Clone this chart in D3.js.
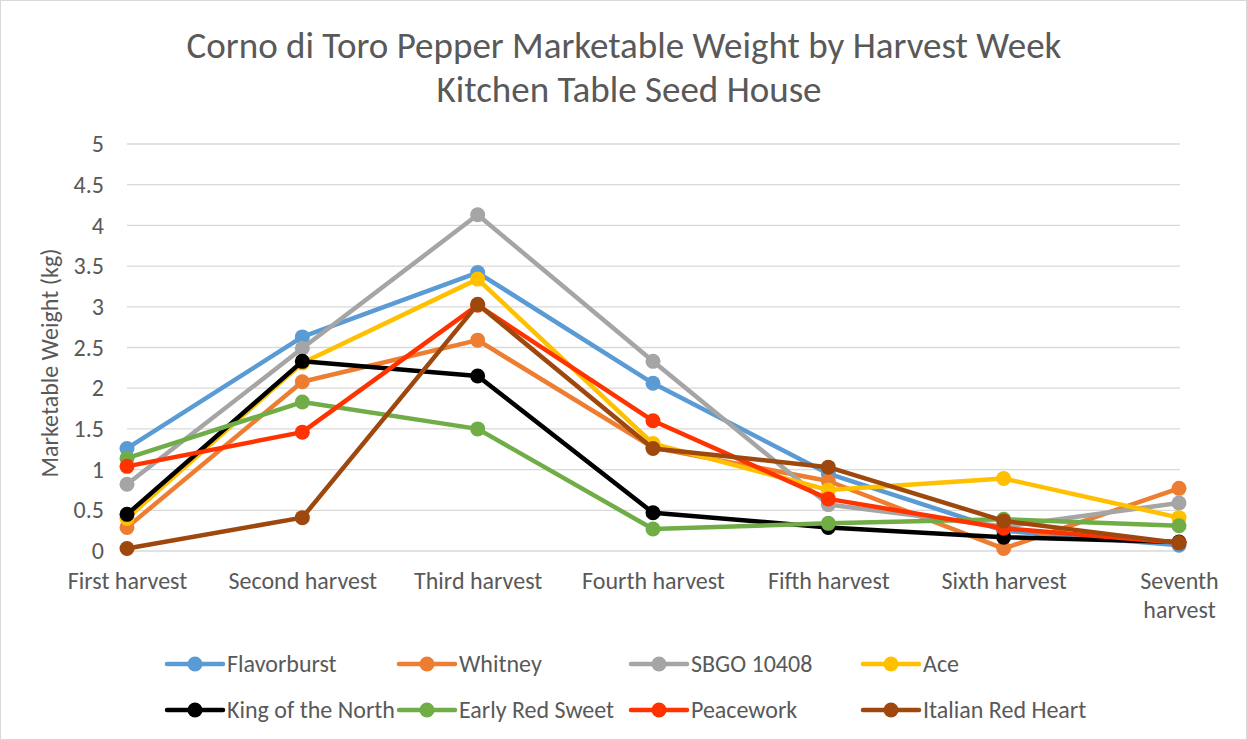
<!DOCTYPE html>
<html>
<head>
<meta charset="utf-8">
<script src="https://cdn.jsdelivr.net/npm/d3@7"></script>
<style>
  body { margin: 0; background: #fff; }
  text { font-family: Calibri, Carlito, "Liberation Sans", "Open Sans", sans-serif; fill: #595959; }
</style>
</head>
<body>
<div id="chart"></div>
<script>
// harvest weeks
var harvests = ["First harvest", "Second harvest", "Third harvest", "Fourth harvest",
                "Fifth harvest", "Sixth harvest", "Seventh harvest"]
var yTicks = [0, 0.5, 1, 1.5, 2, 2.5, 3, 3.5, 4, 4.5, 5]

// values (kg)
var flavorburst   = [1.26, 2.63, 3.42, 2.06, 0.95, 0.25, 0.07]
var whitney       = [0.29, 2.08, 2.59, 1.27, 0.86, 0.03, 0.77]
var sbgo10408     = [0.82, 2.49, 4.13, 2.33, 0.57, 0.30, 0.59]
var ace           = [0.40, 2.31, 3.34, 1.32, 0.75, 0.89, 0.41]
var kingNorth     = [0.45, 2.33, 2.15, 0.47, 0.29, 0.17, 0.11]
var earlyRedSweet = [1.14, 1.83, 1.50, 0.27, 0.34, 0.39, 0.31]
var peacework     = [1.04, 1.46, 3.02, 1.60, 0.64, 0.28, 0.10]
var italianRed    = [0.03, 0.41, 3.03, 1.26, 1.03, 0.37, 0.10]

var seriesNames = ["Flavorburst", "Whitney", "SBGO 10408", "Ace",
                   "King of the North", "Early Red Sweet", "Peacework", "Italian Red Heart"]
var seriesColors = ["#5B9BD5", "#ED7D31", "#A5A5A5", "#FFC000",
                    "#000000", "#70AD47", "#FF3300", "#9E480E"]
var seriesValues = [flavorburst, whitney, sbgo10408, ace,
                    kingNorth, earlyRedSweet, peacework, italianRed]

var W = 1247, H = 740
var svg = d3.select("#chart").append("svg")
    .attr("width", W).attr("height", H)

svg.append("rect").attr("x", 0.5).attr("y", 0.5)
    .attr("width", W - 1).attr("height", H - 1)
    .attr("fill", "#fff").attr("stroke", "#d9d9d9")

var x = d3.scalePoint().domain(harvests).range([127, 1179])
var y = d3.scaleLinear().domain([0, 5]).range([551, 144])

// title
svg.append("text").attr("x", 624).attr("y", 58).attr("text-anchor", "middle")
    .style("font-size", "37px").text("Corno di Toro Pepper Marketable Weight by Harvest Week")
svg.append("text").attr("x", 629).attr("y", 102).attr("text-anchor", "middle")
    .style("font-size", "37px").text("Kitchen Table Seed House")

// gridlines
svg.append("g").selectAll("line").data(yTicks).enter().append("line")
    .attr("x1", 127).attr("x2", 1180)
    .attr("y1", d => y(d)).attr("y2", d => y(d))
    .attr("stroke", "#d9d9d9").attr("stroke-width", 1.3)

// y axis
var yAxis = svg.append("g").attr("transform", "translate(127,0)")
    .call(d3.axisLeft(y).tickValues(yTicks).tickSize(0).tickPadding(23).tickFormat(d3.format("")))
yAxis.select(".domain").remove()
yAxis.selectAll("text").style("font-size", "24px").attr("fill", "#595959")

// x axis labels
var xAxis = svg.append("g").attr("transform", "translate(0,551)")
    .call(d3.axisBottom(x).tickSize(0).tickPadding(21))
xAxis.select(".domain").remove()
xAxis.selectAll("text").style("font-size", "24px").attr("fill", "#595959")
    .each(function(d) {
        if (d == "Seventh harvest") {
            var t = d3.select(this).text("")
            t.append("tspan").attr("x", 0).attr("dy", "0.71em").text("Seventh")
            t.append("tspan").attr("x", 0).attr("dy", "1.2em").text("harvest")
        }
    })

svg.append("text")
    .attr("transform", "translate(58,363) rotate(-90)")
    .attr("text-anchor", "middle").style("font-size", "24px")
    .text("Marketable Weight (kg)")

// series
var line = d3.line().x((d, i) => x(harvests[i])).y(d => y(d))
seriesValues.forEach(function(vals, k) {
    var g = svg.append("g")
    g.append("path").datum(vals).attr("d", line)
        .attr("fill", "none").attr("stroke", seriesColors[k])
        .attr("stroke-width", 4.5).attr("stroke-linejoin", "round")
    g.selectAll("circle").data(vals).enter().append("circle")
        .attr("cx", (d, i) => x(harvests[i])).attr("cy", d => y(d))
        .attr("r", 7.5).attr("fill", seriesColors[k])
})

// legend
var legX = [167, 399, 631, 863]
var legY = [664, 710]
seriesNames.forEach(function(name, k) {
    var lx = legX[k % 4], ly = legY[Math.floor(k / 4)]
    var g = svg.append("g")
    g.append("line").attr("x1", lx).attr("x2", lx + 56).attr("y1", ly).attr("y2", ly)
        .attr("stroke", seriesColors[k]).attr("stroke-width", 4.5).attr("stroke-linecap", "round")
    g.append("circle").attr("cx", lx + 28).attr("cy", ly).attr("r", 7.5).attr("fill", seriesColors[k])
    g.append("text").attr("x", lx + 60).attr("y", ly + 8).style("font-size", "24px").text(name)
})
</script>
</body>
</html>
